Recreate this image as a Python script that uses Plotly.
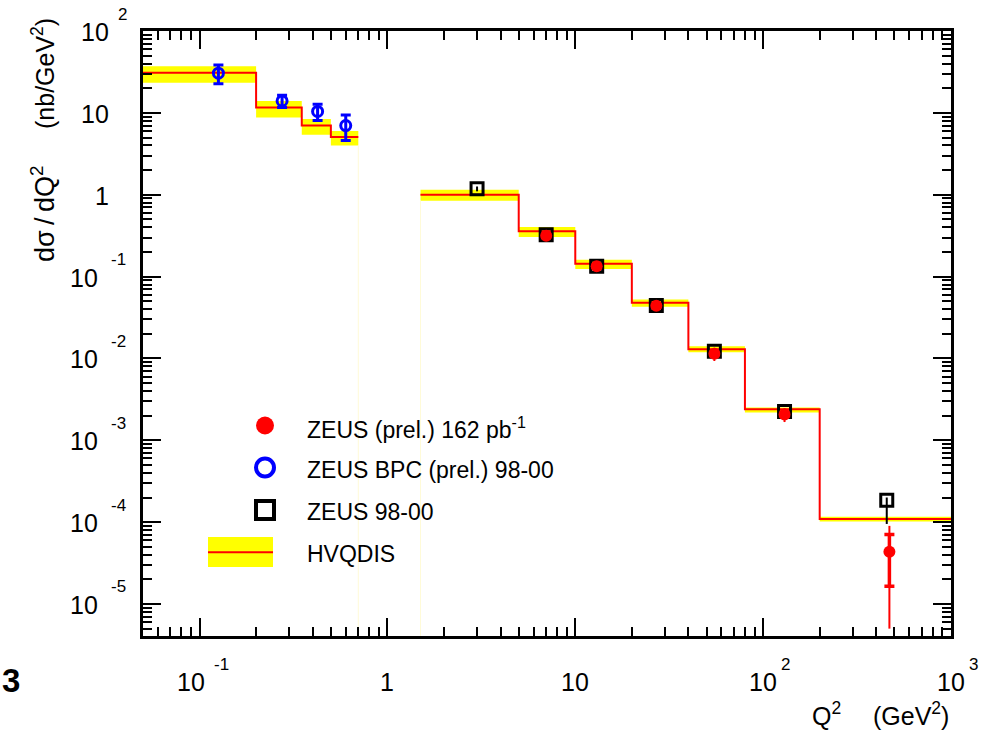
import numpy as np
import plotly.graph_objects as go

# ---- HVQDIS prediction: bin edges, central values, uncertainty band ----
bpc_edges = [0.05, 0.2, 0.35, 0.5, 0.7]
bpc_theory = [30.9, 11.6, 7.0, 5.06]
bpc_theory_up = [37.0, 14.0, 8.4, 6.0]
bpc_theory_dn = [23.4, 8.8, 5.4, 4.0]

dis_edges = [1.5, 5, 10, 20, 40, 80, 200, 1000]
dis_theory = [1.0, 0.357, 0.143, 0.0478, 0.0129, 0.00239, 1.09e-4]
dis_theory_up = [1.15, 0.404, 0.161, 0.0524, 0.0141, 0.00251, 1.16e-4]
dis_theory_dn = [0.845, 0.305, 0.124, 0.0427, 0.0119, 0.00218, 1.02e-4]

# ---- ZEUS BPC (prel.) 98-00 ----
bpc_q2 = [0.126, 0.275, 0.425, 0.60]
bpc_xsec = [30.5, 14.0, 10.4, 7.0]
bpc_err = [7.8, 2.4, 2.35, 2.4]

# ---- ZEUS 98-00 ----
z98_q2 = [3.0, 7.0, 13.0, 27.0, 55.0, 130.0, 455.0]
z98_xsec = [1.18, 0.325, 0.134, 0.0443, 0.01227, 0.00224, 1.85e-4]
z98_err_up = [0.08, 0.02, 0.008, 0.003, 0.0008, 0.00015, 0.15e-4]
z98_err_dn = [0.08, 0.02, 0.008, 0.003, 0.0008, 0.00015, 0.90e-4]

# ---- ZEUS (prel.) 162 pb^-1 ----
h2_q2 = [7.0, 13.0, 27.0, 55.0, 130.0, 470.0]
h2_xsec = [0.316, 0.134, 0.044, 0.0114, 0.00207, 4.35e-5]
h2_stat = [0.010, 0.004, 0.0015, 0.0006, 0.0001, 2.7e-5]
h2_tot_up = [0.015, 0.006, 0.002, 0.0021, 0.0004, 4.65e-5]
h2_tot_dn = [0.015, 0.006, 0.002, 0.0021, 0.0004, 3.85e-5]

# ---- axis ticks: (value, mantissa text, exponent text) ----
x_major = [0.1, 1, 10, 100, 1000]
x_base = ["10", "1", "10", "10", "10"]
x_exp = ["-1", "", "", "2", "3"]
y_major = [1e-5, 1e-4, 1e-3, 1e-2, 1e-1, 1, 10, 100]
y_base = ["10", "10", "10", "10", "10", "1", "10", "10"]
y_exp = ["-5", "-4", "-3", "-2", "-1", "", "", "2"]

FONT = "Liberation Sans, Arial, Helvetica, sans-serif"
YELLOW = "#ffff00"
RED = "#ff0000"
BLUE = "#0000ff"

# figure geometry (pixels)
W, H = 989, 742
L, R, T, B = 143, 38, 31, 106
PW, PH = W - L - R, H - T - B


def px(xp):
    return (xp - L) / PW


def py(yp):
    return (H - B - yp) / PH


def band_polygon(edges, up, dn):
    xs, ys = [], []
    for i in range(len(up)):
        xs += [edges[i], edges[i + 1]]
        ys += [up[i], up[i]]
    for i in reversed(range(len(dn))):
        xs += [edges[i + 1], edges[i]]
        ys += [dn[i], dn[i]]
    return xs, ys


fig = go.Figure()

# uncertainty bands
for edges, up, dn in [(bpc_edges, bpc_theory_up, bpc_theory_dn),
                      (dis_edges, dis_theory_up, dis_theory_dn)]:
    bx, by = band_polygon(edges, up, dn)
    fig.add_trace(go.Scatter(x=bx, y=by, mode="lines", fill="toself",
                             fillcolor=YELLOW, line=dict(width=0),
                             hoverinfo="skip", showlegend=False))

# faint band edges running down to the axis
fig.add_trace(go.Scatter(x=[bpc_edges[-1], bpc_edges[-1]], y=[bpc_theory_dn[-1], 1e-7],
                         mode="lines", line=dict(color="#fffbd8", width=1),
                         hoverinfo="skip", showlegend=False))
fig.add_trace(go.Scatter(x=[dis_edges[0], dis_edges[0]], y=[dis_theory_dn[0], 1e-7],
                         mode="lines", line=dict(color="#fffbd8", width=1),
                         hoverinfo="skip", showlegend=False))

# central HVQDIS prediction as step histograms
for edges, vals in [(bpc_edges, bpc_theory), (dis_edges, dis_theory)]:
    fig.add_trace(go.Scatter(x=edges, y=list(vals) + [vals[-1]], mode="lines",
                             line=dict(color=RED, width=2, shape="hv"),
                             hoverinfo="skip", showlegend=False))

# ZEUS BPC points
fig.add_trace(go.Scatter(
    x=bpc_q2, y=bpc_xsec, mode="markers",
    marker=dict(symbol="circle-open", size=10, color=BLUE, line=dict(width=3, color=BLUE)),
    error_y=dict(type="data", array=bpc_err, color=BLUE, thickness=3, width=5),
    showlegend=False))

# ZEUS 98-00 points
fig.add_trace(go.Scatter(
    x=z98_q2, y=z98_xsec, mode="markers",
    marker=dict(symbol="square-open", size=12, color="black", line=dict(width=3, color="black")),
    error_y=dict(type="data", symmetric=False, array=z98_err_up, arrayminus=z98_err_dn,
                 color="black", thickness=2, width=0),
    showlegend=False))

# ZEUS 162 pb-1: total uncertainty (thin) then statistical (thick, capped)
fig.add_trace(go.Scatter(
    x=h2_q2, y=h2_xsec, mode="markers",
    marker=dict(symbol="circle", size=1, color="rgba(0,0,0,0)"),
    error_y=dict(type="data", symmetric=False, array=h2_tot_up, arrayminus=h2_tot_dn,
                 color=RED, thickness=2, width=0),
    hoverinfo="skip", showlegend=False))
fig.add_trace(go.Scatter(
    x=h2_q2, y=h2_xsec, mode="markers",
    marker=dict(symbol="circle", size=12, color=RED, line=dict(width=0)),
    error_y=dict(type="data", array=h2_stat, color=RED, thickness=3.5, width=5),
    showlegend=False))

axis_common = dict(
    type="log", showgrid=False, zeroline=False,
    showline=True, linecolor="black", linewidth=3, mirror="allticks",
    ticks="inside", ticklen=18, tickwidth=2, tickcolor="black",
    tickmode="array", showticklabels=False,
)

x_minor = [m * 10.0 ** e for e in range(-2, 3) for m in range(2, 10)]
y_minor = [m * 10.0 ** e for e in range(-6, 2) for m in range(2, 10)]

fig.update_xaxes(**axis_common, range=[np.log10(0.05), 3], tickvals=x_major,
                 minor=dict(ticks="inside", ticklen=9, tickwidth=2, tickcolor="black",
                            tickmode="array", tickvals=x_minor, showgrid=False))
fig.update_yaxes(**axis_common, range=[-5.391, 2], tickvals=y_major,
                 minor=dict(ticks="inside", ticklen=9, tickwidth=2, tickcolor="black",
                            tickmode="array", tickvals=y_minor, showgrid=False))

annotations = []
shapes = []
tick_font = dict(family=FONT, size=25, color="black")
exp_font = dict(family=FONT, size=17, color="black")

# x tick labels: mantissa on the tick, exponent raised to its right
for v, base, ex in zip(x_major, x_base, x_exp):
    neg = ex.startswith("-")
    annotations.append(dict(text=base, x=np.log10(v), xref="x", y=py(682), yref="paper",
                            xanchor="center", yanchor="middle", showarrow=False,
                            xshift=-9 if neg else 0, font=tick_font))
    if ex:
        annotations.append(dict(text=ex, x=np.log10(v), xref="x", y=py(664), yref="paper",
                                xanchor="left", yanchor="middle", showarrow=False,
                                xshift=12 if neg else 16, font=exp_font))

# y tick labels: right-aligned block, exponent raised
for v, base, ex in zip(y_major, y_base, y_exp):
    if ex:
        neg = ex.startswith("-")
        annotations.append(dict(text=base, x=px(100 if neg else 111),
                                xref="paper", y=np.log10(v), yref="y", yshift=-1,
                                xanchor="right", yanchor="middle", showarrow=False,
                                font=tick_font))
        annotations.append(dict(text=ex, x=px(109 if neg else 116),
                                xref="paper", y=np.log10(v), yref="y", yshift=17,
                                xanchor="left", yanchor="middle", showarrow=False,
                                font=exp_font))
    else:
        annotations.append(dict(text=base, x=px(111), xref="paper", y=np.log10(v), yref="y",
                                yshift=-1, xanchor="right", yanchor="middle", showarrow=False,
                                font=tick_font))

# axis titles
annotations.append(dict(text="(nb/GeV<sup>2</sup>)", x=px(43), y=py(74), xref="paper", yref="paper",
                        textangle=-90, showarrow=False, xanchor="center", yanchor="middle",
                        font=dict(family=FONT, size=25, color="black")))
annotations.append(dict(text="dσ\u2009/\u2009dQ<sup>2</sup>", x=px(43), y=py(214),
                        xref="paper", yref="paper",
                        textangle=-90, showarrow=False, xanchor="center", yanchor="middle",
                        font=dict(family=FONT, size=27, color="black")))
annotations.append(dict(text="Q<sup>2</sup>", x=px(810), y=py(714), xref="paper", yref="paper",
                        showarrow=False, xanchor="left", yanchor="middle",
                        font=dict(family=FONT, size=25, color="black")))
annotations.append(dict(text="(GeV<sup>2</sup>)", x=px(951), y=py(714), xref="paper", yref="paper",
                        showarrow=False, xanchor="right", yanchor="middle",
                        font=dict(family=FONT, size=25, color="black")))
annotations.append(dict(text="<b>3</b>", x=px(0), y=py(680), xref="paper", yref="paper",
                        showarrow=False, xanchor="left", yanchor="middle",
                        font=dict(family=FONT, size=33, color="black")))

# legend
leg_x, leg_text_x = 265, 305
rows = [428, 470, 512, 554]
legend_texts = ["ZEUS (prel.) 162 pb<sup>-1</sup>", "ZEUS BPC (prel.) 98-00",
                "ZEUS 98-00", "HVQDIS"]
for yy, txt in zip(rows, legend_texts):
    annotations.append(dict(text=txt, x=px(leg_text_x), y=py(yy), xref="paper", yref="paper",
                            showarrow=False, xanchor="left", yanchor="middle",
                            font=dict(family=FONT, size=23, color="black")))

r = 9
shapes.append(dict(type="circle", xref="paper", yref="paper",
                   x0=px(leg_x - r), x1=px(leg_x + r), y0=py(425.5 + r), y1=py(425.5 - r),
                   fillcolor=RED, line=dict(width=0)))
shapes.append(dict(type="circle", xref="paper", yref="paper",
                   x0=px(leg_x - r), x1=px(leg_x + r), y0=py(467.5 + r), y1=py(467.5 - r),
                   line=dict(color=BLUE, width=4)))
shapes.append(dict(type="rect", xref="paper", yref="paper",
                   x0=px(leg_x - r), x1=px(leg_x + r), y0=py(510 + r), y1=py(510 - r),
                   line=dict(color="black", width=4)))
shapes.append(dict(type="rect", xref="paper", yref="paper",
                   x0=px(208), x1=px(273), y0=py(567), y1=py(537),
                   fillcolor=YELLOW, line=dict(width=0)))
shapes.append(dict(type="line", xref="paper", yref="paper",
                   x0=px(208), x1=px(273), y0=py(552.3), y1=py(552.3),
                   line=dict(color=RED, width=2)))

fig.update_layout(
    width=W, height=H,
    margin=dict(l=L, r=R, t=T, b=B),
    paper_bgcolor="white", plot_bgcolor="white",
    showlegend=False,
    annotations=annotations, shapes=shapes,
    font=dict(family=FONT, color="black"),
)

fig.write_html("out.html")
